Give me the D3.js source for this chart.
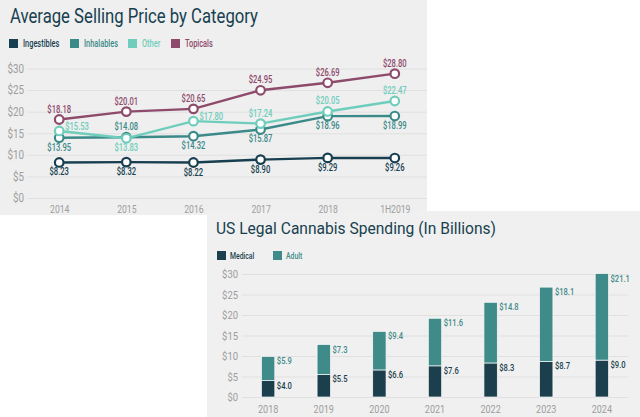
<!DOCTYPE html>
<html lang="en">
<head>
<meta charset="UTF-8">
<script src="https://d3js.org/d3.v7.min.js"></script>
<title>Cannabis charts</title>
<style>
  body { margin: 0; background: #fff; }
  svg { display: block; font-family: "Roboto", "Noto Sans", sans-serif; }
</style>
</head>
<body>
<script>
  var width = 640, height = 417;

  // ---- top chart data ----
  var years = ["2014", "2015", "2016", "2017", "2018", "1H2019"];
  var seriesNames = ["Ingestibles", "Inhalables", "Other", "Topicals"];
  var ingestibles = [8.23, 8.32, 8.22, 8.90, 9.29, 9.26];
  var inhalables = [13.95, 14.08, 14.32, 15.87, 18.96, 18.99];
  var other = [15.53, 13.83, 17.80, 17.24, 20.05, 22.47];
  var topicals = [18.18, 20.01, 20.65, 24.95, 26.69, 28.80];
  var priceTicks = [0, 5, 10, 15, 20, 25, 30];

  // ---- bottom chart data ----
  var spendYears = ["2018", "2019", "2020", "2021", "2022", "2023", "2024"];
  var medical = [4.0, 5.5, 6.6, 7.6, 8.3, 8.7, 9.0];
  var adult = [5.9, 7.3, 9.4, 11.6, 14.8, 18.1, 21.1];
  var spendTicks = [0, 5, 10, 15, 20, 25, 30];

  var colors = {
    Ingestibles: "#173f4f",
    Inhalables: "#3b8a89",
    Other: "#6fcdbc",
    Topicals: "#8d4a6b"
  };
  var medColor = "#1b3f4d", adultColor = "#3e8b8a";
  var tickGray = "#9d9d9d";

  // the original typeface is a narrow one, squeeze Roboto to match
  function condense(sel, k) {
    sel.each(function () {
      var w = this.getComputedTextLength();
      d3.select(this).attr("textLength", w * k).attr("lengthAdjust", "spacingAndGlyphs");
    });
  }

  var svg = d3.select("body").append("svg")
      .attr("width", width)
      .attr("height", height);

  // panels
  svg.append("rect").attr("x", 0).attr("y", 0).attr("width", 427).attr("height", 215).attr("fill", "#efefef");
  svg.append("rect").attr("x", 207).attr("y", 211).attr("width", 433).attr("height", 206).attr("fill", "#f0f0f0");

  // ================= top: line chart =================
  var topG = svg.append("g");

  topG.append("text")
      .attr("x", 10).attr("y", 23)
      .attr("font-size", 21)
      .attr("fill", "#173f4f")
      .text("Average Selling Price by Category")
      .attr("textLength", 248).attr("lengthAdjust", "spacingAndGlyphs");

  var legX = [9, 70, 128, 171];
  seriesNames.forEach(function (name, i) {
    topG.append("rect").attr("x", legX[i]).attr("y", 39).attr("width", 9).attr("height", 9).attr("fill", colors[name]);
    topG.append("text").attr("x", legX[i] + 14).attr("y", 47)
        .attr("font-size", 10).attr("font-weight", 500)
        .attr("fill", colors[name]).text(name)
        .call(condense, 0.74);
  });

  var x = d3.scalePoint().domain(years).range([27, 427]).padding(0.48);
  var y = d3.scaleLinear().domain([0, 30]).range([198, 68.5]);

  // grid
  topG.append("g")
      .attr("transform", "translate(27,0)")
      .call(d3.axisLeft(y).tickValues(priceTicks).tickSize(-400).tickFormat(function (d) { return "$" + d; }))
      .call(function (g) {
        g.select(".domain").remove();
        g.selectAll(".tick line").attr("stroke", "#e0e0e0");
        g.selectAll(".tick text").attr("x", -3).attr("font-size", 12).attr("fill", tickGray)
            .attr("font-family", "Roboto").call(condense, 0.82);
      });

  topG.append("g")
      .attr("transform", "translate(0,198)")
      .call(d3.axisBottom(x).tickSize(0).tickPadding(8))
      .call(function (g) {
        g.select(".domain").remove();
        g.selectAll(".tick text").attr("font-size", 10.5).attr("fill", tickGray)
            .attr("font-family", "Roboto").call(condense, 0.82);
      });

  // label placement per series: "a" above, "b" below, "r" right
  var lineData = [
    { name: "Ingestibles", values: ingestibles, pos: ["b", "b", "b", "b", "b", "b"] },
    { name: "Inhalables", values: inhalables, pos: ["b", "a", "b", "b", "b", "b"] },
    { name: "Other", values: other, pos: ["r", "b", "r", "a", "a", "a"] },
    { name: "Topicals", values: topicals, pos: ["a", "a", "a", "a", "a", "a"] }
  ];

  var line = d3.line()
      .x(function (d, i) { return x(years[i]); })
      .y(function (d) { return y(d); });

  lineData.forEach(function (s) {
    var g = topG.append("g");
    g.append("path")
        .attr("d", line(s.values))
        .attr("fill", "none")
        .attr("stroke", colors[s.name])
        .attr("stroke-width", 2.4);
    g.selectAll("circle").data(s.values).enter().append("circle")
        .attr("cx", function (d, i) { return x(years[i]); })
        .attr("cy", function (d) { return y(d); })
        .attr("r", 4.3)
        .attr("fill", "#fff")
        .attr("stroke", colors[s.name])
        .attr("stroke-width", 2.2);
  });

  lineData.forEach(function (s) {
    topG.append("g").selectAll("text").data(s.values).enter().append("text")
        .attr("x", function (d, i) { return x(years[i]) + (s.pos[i] === "r" ? 6 : 0); })
        .attr("y", function (d, i) {
          var p = s.pos[i];
          return y(d) + (p === "a" ? -7 : p === "b" ? 13 : -1);
        })
        .attr("text-anchor", function (d, i) { return s.pos[i] === "r" ? "start" : "middle"; })
        .attr("font-size", 10)
        .attr("font-weight", 500)
        .attr("fill", colors[s.name])
        .text(function (d) { return "$" + d.toFixed(2); })
        .call(condense, 0.76);
  });

  // ================= bottom: stacked bars =================
  var botG = svg.append("g");

  botG.append("text")
      .attr("x", 216).attr("y", 234)
      .attr("font-size", 17)
      .attr("fill", "#173f4f")
      .text("US Legal Cannabis Spending (In Billions)")
      .attr("textLength", 280).attr("lengthAdjust", "spacingAndGlyphs");

  [["Medical", medColor, 217], ["Adult", adultColor, 273]].forEach(function (l) {
    botG.append("rect").attr("x", l[2]).attr("y", 251).attr("width", 9).attr("height", 9).attr("fill", l[1]);
    botG.append("text").attr("x", l[2] + 13).attr("y", 259)
        .attr("font-size", 9).attr("font-weight", 500)
        .attr("fill", l[1]).text(l[0])
        .call(condense, 0.76);
  });

  var xb = d3.scaleBand().domain(spendYears).range([242, 628]).paddingInner(0.76).paddingOuter(0.35);
  var yb = d3.scaleLinear().domain([0, 30]).range([397, 274]);

  botG.append("g")
      .attr("transform", "translate(242,0)")
      .call(d3.axisLeft(yb).tickValues(spendTicks).tickSize(-386).tickFormat(function (d) { return "$" + d; }))
      .call(function (g) {
        g.select(".domain").remove();
        g.selectAll(".tick line").attr("stroke", "#e0e0e0");
        g.selectAll(".tick text").attr("x", -4).attr("font-size", 11.5).attr("fill", tickGray)
            .attr("font-family", "Roboto").call(condense, 0.82);
      });

  botG.append("g")
      .attr("transform", "translate(0,397)")
      .call(d3.axisBottom(xb).tickSize(0).tickPadding(8))
      .call(function (g) {
        g.select(".domain").remove();
        g.selectAll(".tick text").attr("font-size", 11).attr("fill", tickGray)
            .attr("font-family", "Roboto").call(condense, 0.82);
      });

  var stackRows = spendYears.map(function (yr, i) { return { year: yr, Medical: medical[i], Adult: adult[i] }; });
  var stacked = d3.stack().keys(["Medical", "Adult"])(stackRows);

  var layer = botG.selectAll("g.layer").data(stacked).enter().append("g")
      .attr("class", "layer")
      .attr("fill", function (d) { return d.key === "Medical" ? medColor : adultColor; });

  layer.selectAll("rect").data(function (d) { return d; }).enter().append("rect")
      .attr("x", function (d) { return xb(d.data.year); })
      .attr("y", function (d) { return yb(d[1]); })
      .attr("width", xb.bandwidth())
      .attr("height", function (d) { return yb(d[0]) - yb(d[1]); })
      .attr("stroke", "#fafafa")
      .attr("stroke-width", 0.7);

  layer.selectAll("text").data(function (d) { return d; }).enter().append("text")
      .attr("x", function (d) { return xb(d.data.year) + xb.bandwidth() + 2; })
      .attr("y", function (d) { return yb(d[1]) + 8; })
      .attr("font-size", 9.5)
      .attr("font-weight", 500)
      .text(function (d) { return "$" + (d[1] - d[0]).toFixed(1); })
      .call(condense, 0.8);
</script>
</body>
</html>
